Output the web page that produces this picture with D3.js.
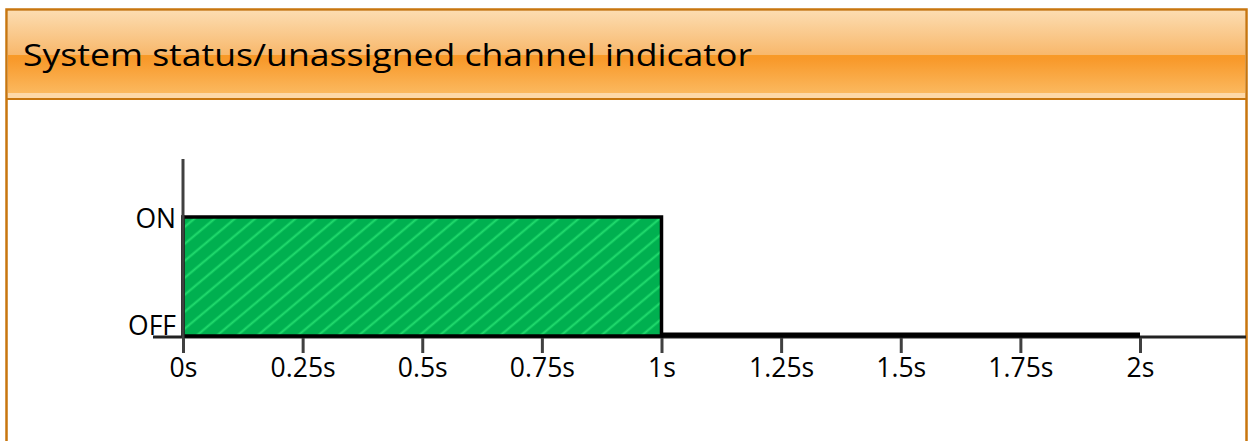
<!DOCTYPE html>
<html>
<head>
<meta charset="utf-8">
<script src="https://cdn.jsdelivr.net/npm/d3@7"></script>
<style>
 body { margin: 0; background: #fff; }
 text { font-family: "Open Sans", sans-serif; fill: #000; }
</style>
</head>
<body>
<script>
var width = 1249, height = 441;

// data
var title = 'System status/unassigned channel indicator';
var stateLabels = ['OFF', 'ON'];
var tickValues = [0, 0.25, 0.5, 0.75, 1, 1.25, 1.5, 1.75, 2];
// signal: start time, end time, state (1 = ON, 0 = OFF)
var segStart = [0, 1];
var segEnd = [1, 2];
var segState = [1, 0];

var svg = d3.select('body').append('svg').attr('width', width).attr('height', height);
var defs = svg.append('defs');

// header gradient
var grad = defs.append('linearGradient').attr('id', 'hdr').attr('x1', 0).attr('y1', 0).attr('x2', 0).attr('y2', 1);
[[0, '#fcdcb0'], [0.5, '#f8b86c'], [0.505, '#f89a26'], [0.55, '#f8992a'], [0.94, '#fbb85e'], [0.945, '#fdd8a8'], [1, '#fdd8a8']]
 .forEach(function(s) { grad.append('stop').attr('offset', s[0]).attr('stop-color', s[1]); });

// hatching
var pat = defs.append('pattern').attr('id', 'hatch').attr('patternUnits', 'userSpaceOnUse')
 .attr('width', 13).attr('height', 13).attr('patternTransform', 'rotate(50)');
pat.append('rect').attr('width', 13).attr('height', 13).attr('fill', '#00b050');
pat.append('line').attr('x1', 6.5).attr('y1', 0).attr('x2', 6.5).attr('y2', 13)
 .attr('stroke', '#22dc6e').attr('stroke-width', 2);

// frame
svg.append('rect').attr('x', 6.5).attr('y', 9.5).attr('width', 1240).attr('height', 460)
 .attr('fill', '#fff').attr('stroke', '#c8760e').attr('stroke-width', 2.5);
svg.append('rect').attr('x', 8).attr('y', 11).attr('width', 1237).attr('height', 87)
 .attr('fill', 'url(#hdr)');
svg.append('line').attr('x1', 6.5).attr('x2', 1246.5).attr('y1', 99).attr('y2', 99)
 .attr('stroke', '#c8760e').attr('stroke-width', 2);
svg.append('text').attr('x', 23).attr('y', 66).attr('font-size', 31.5)
 .attr('textLength', 729).attr('lengthAdjust', 'spacingAndGlyphs').text(title);

// scales
var x = d3.scaleLinear().domain([0, 2]).range([183, 1140]);
var y = d3.scaleLinear().domain([0, 1]).range([336, 217]);

// axes
var axisColor = '#404040';
svg.append('line').attr('x1', 183).attr('x2', 183).attr('y1', 159).attr('y2', y(0))
 .attr('stroke', axisColor).attr('stroke-width', 3);
svg.append('line').attr('x1', 153).attr('x2', 1246).attr('y1', 337).attr('y2', 337)
 .attr('stroke', '#222').attr('stroke-width', 3);

var xAxis = svg.append('g').attr('transform', 'translate(0,338)')
 .call(d3.axisBottom(x).tickValues(tickValues).tickSize(15).tickFormat(function(d) { return d + 's'; }));
xAxis.select('.domain').remove();
xAxis.selectAll('.tick line').attr('stroke', axisColor).attr('stroke-width', 3);
xAxis.selectAll('.tick text').attr('font-size', 26.5).attr('font-family', '"Open Sans", sans-serif')
 .attr('fill', '#000').attr('y', 20).attr('dy', '0.71em');

svg.selectAll('.state').data(stateLabels).join('text').attr('class', 'state')
 .attr('x', 176).attr('y', function(d, i) { return y(i) + (i ? 11 : -1); })
 .attr('text-anchor', 'end').attr('font-size', 26.5).text(function(d) { return d; });

// signal
segState.forEach(function(s, i) {
 if (s) {
  svg.append('rect').attr('x', x(segStart[i])).attr('y', y(1))
   .attr('width', x(segEnd[i]) - x(segStart[i])).attr('height', y(0) - y(1))
   .attr('fill', 'url(#hatch)').attr('stroke', '#000').attr('stroke-width', 3.5);
 } else {
  svg.append('line').attr('x1', x(segStart[i])).attr('x2', x(segEnd[i]))
   .attr('y1', y(0) - 1).attr('y2', y(0) - 1).attr('stroke', '#000').attr('stroke-width', 5);
 }
});
// clean left edge of the bar over the axis
svg.append('line').attr('x1', 183).attr('x2', 183).attr('y1', y(1) - 2).attr('y2', 338)
 .attr('stroke', axisColor).attr('stroke-width', 3);
</script>
</body>
</html>
